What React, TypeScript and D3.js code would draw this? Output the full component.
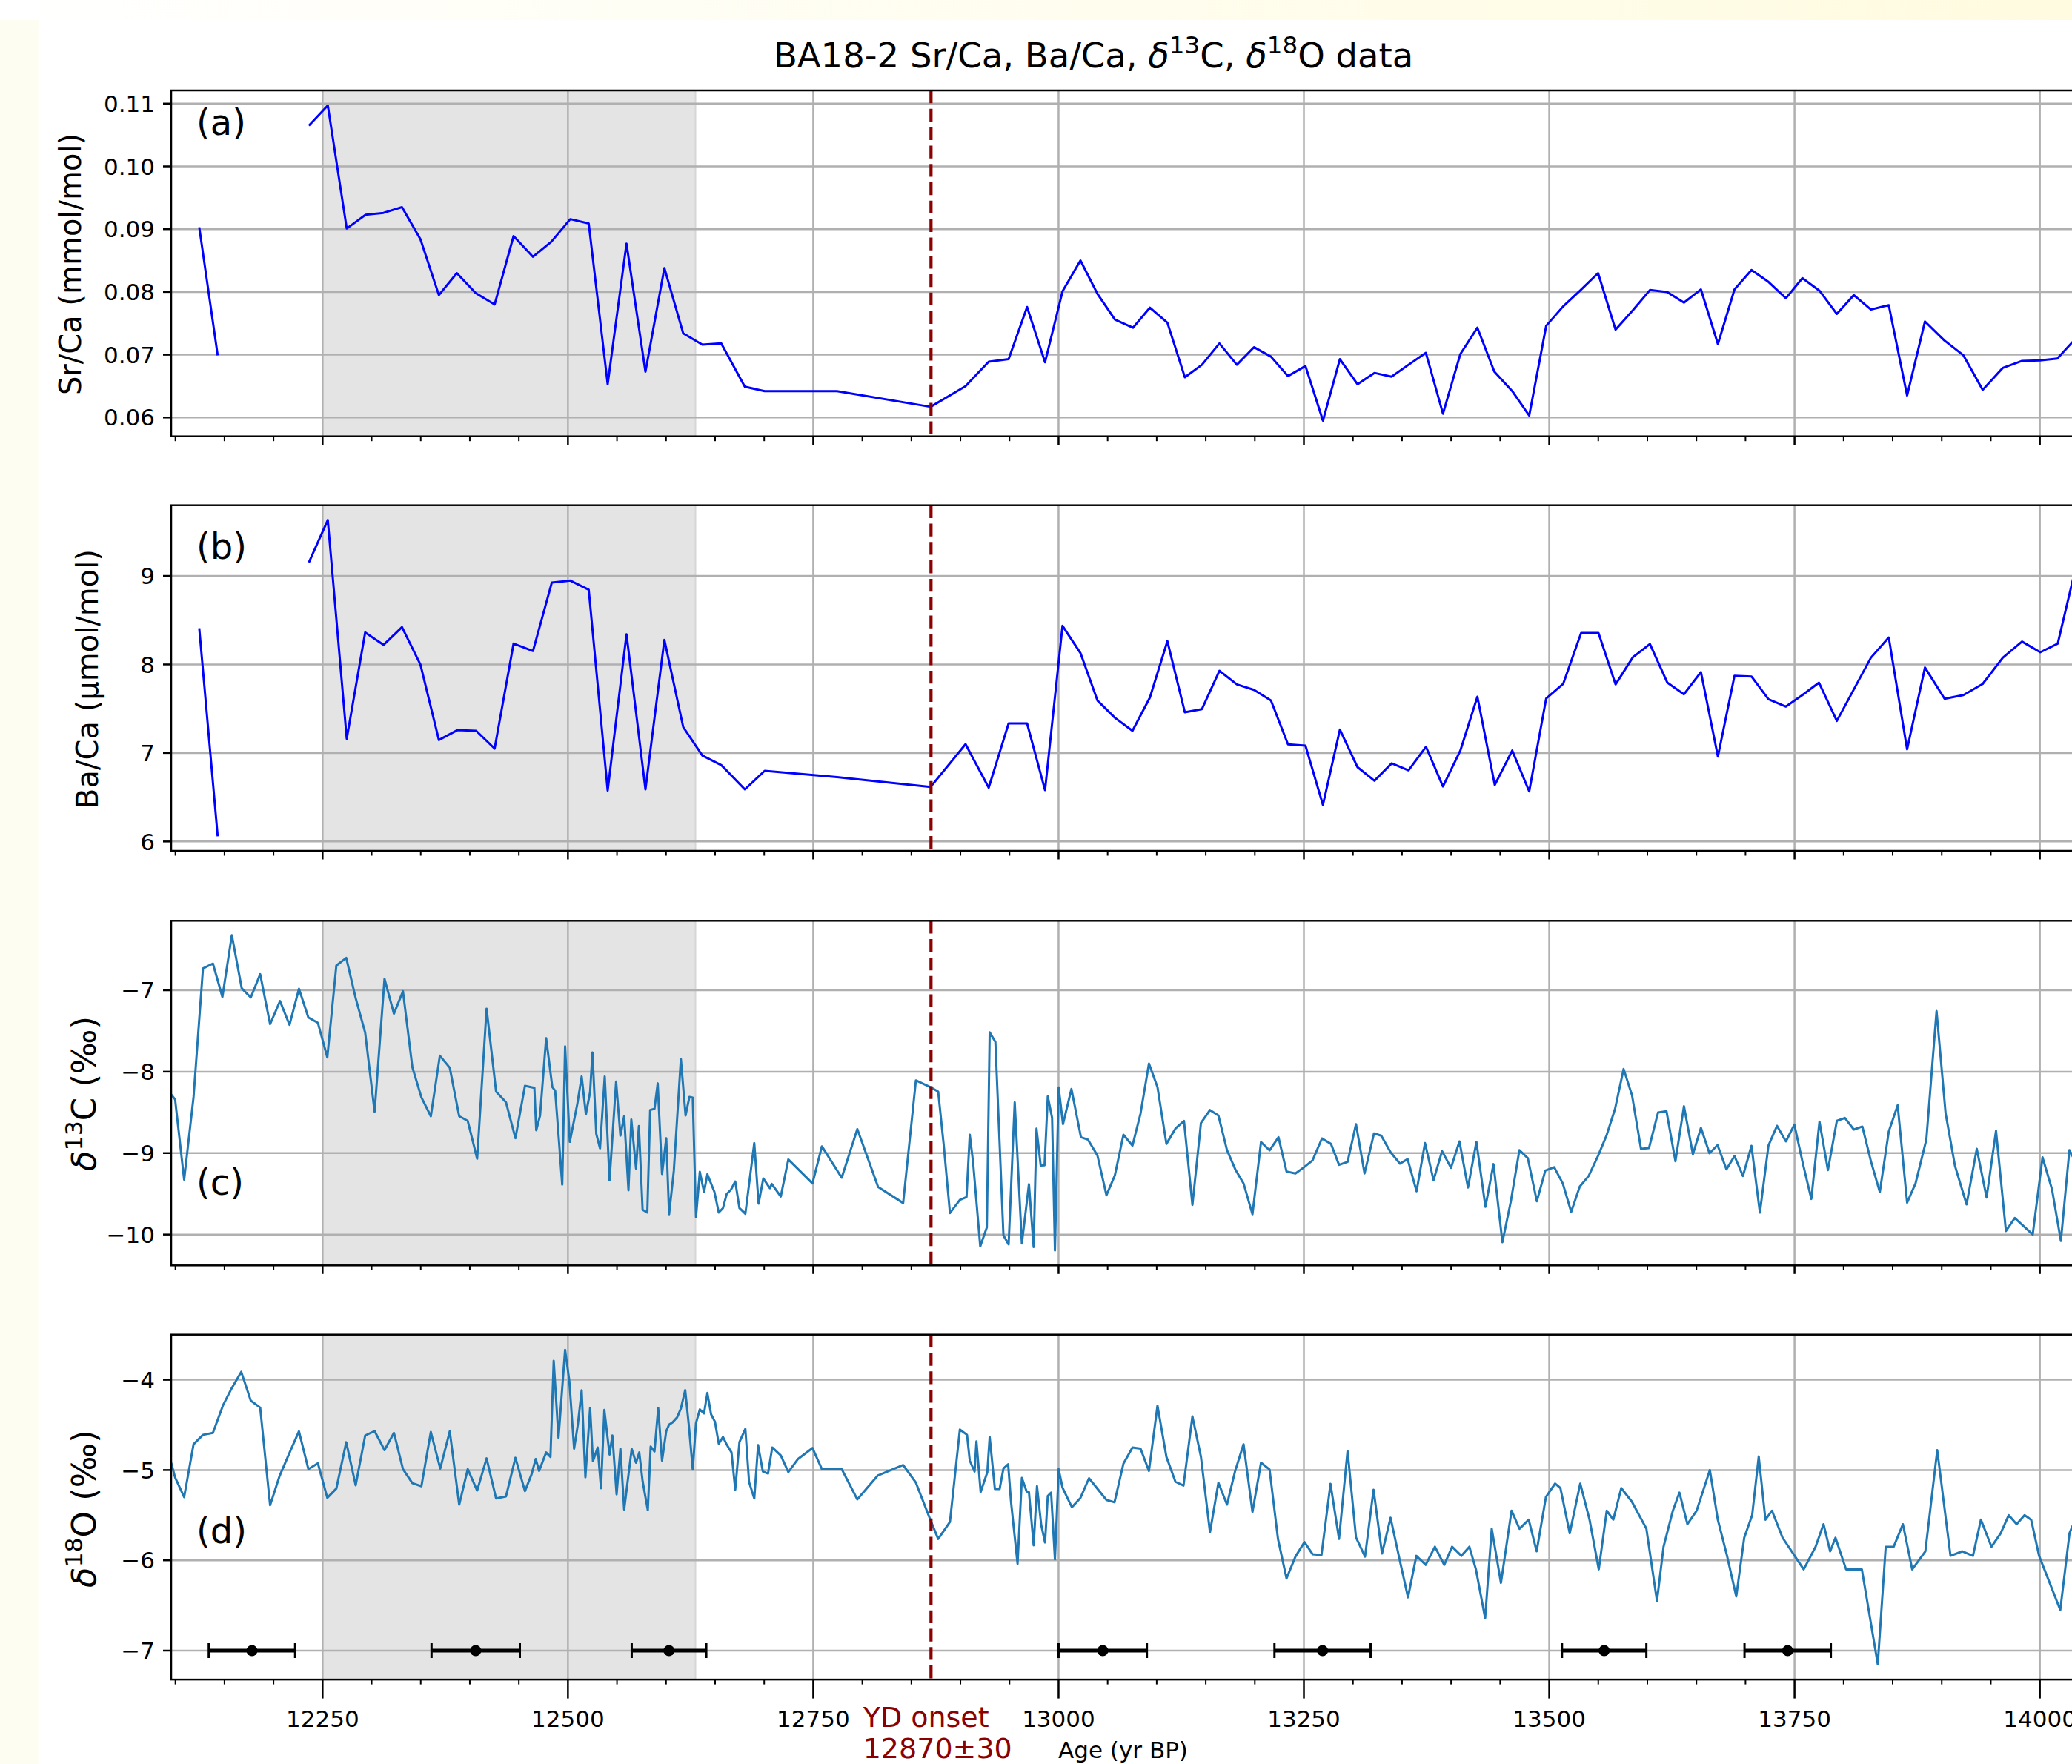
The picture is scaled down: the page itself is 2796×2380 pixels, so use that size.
import React from "react";
import * as d3 from "d3";

type Pt = [number, number | null];

// ---------- data ----------
const xTickValues = [12250, 12500, 12750, 13000, 13250, 13500, 13750, 14000];
const srCaTicks = [0.06, 0.07, 0.08, 0.09, 0.1, 0.11];
const baCaTicks = [6, 7, 8, 9];
const d13CTicks = [-10, -9, -8, -7];
const d18OTicks = [-7, -6, -5, -4];

const srCa: Pt[] = [
  [12124.3, 0.0903], [12143.1, 0.0699], [12190, null],
  [12236.0, 0.1065], [12255.3, 0.1097], [12274.6, 0.0901], [12293.8, 0.0923], [12312.1, 0.0926],
  [12330.9, 0.0935], [12349.7, 0.0884], [12368.5, 0.0795], [12386.8, 0.083], [12406.1, 0.0798],
  [12425.3, 0.078], [12444.6, 0.0889], [12464.4, 0.0856], [12483.1, 0.088], [12502.4, 0.0916],
  [12521.2, 0.0909], [12540.5, 0.0653], [12559.7, 0.0877], [12579.0, 0.0673], [12598.3, 0.0838],
  [12617.5, 0.0734], [12637.0, 0.0716], [12656.2, 0.0718], [12680.3, 0.0649], [12700.5, 0.0642],
  [12774.2, 0.0642], [12869.6, 0.0617], [12905.2, 0.065], [12928.8, 0.0689], [12949.1, 0.0693],
  [12967.9, 0.0776], [12986.2, 0.0688], [13004.0, 0.0801], [13022.3, 0.085], [13039.6, 0.0797],
  [13057.4, 0.0756], [13075.8, 0.0743], [13093.1, 0.0775], [13110.9, 0.0751], [13128.7, 0.0664],
  [13146.1, 0.0684], [13163.9, 0.0718], [13181.7, 0.0684], [13199.1, 0.0712], [13216.4, 0.0697],
  [13233.8, 0.0666], [13251.6, 0.0682], [13269.4, 0.0595], [13286.7, 0.0693], [13304.6, 0.0653],
  [13321.9, 0.0671], [13339.3, 0.0665], [13356.6, 0.0684], [13374.3, 0.0703], [13391.7, 0.0606],
  [13409.4, 0.0701], [13426.8, 0.0743], [13444.1, 0.0673], [13462.3, 0.0642], [13479.6, 0.0603],
  [13496.9, 0.0746], [13514.2, 0.0777], [13532.0, 0.0803], [13549.8, 0.083], [13567.6, 0.074],
  [13585.3, 0.0771], [13602.6, 0.0803], [13620.0, 0.08], [13637.3, 0.0783], [13654.6, 0.0804],
  [13671.9, 0.0717], [13688.8, 0.0804], [13706.1, 0.0835], [13723.4, 0.0816], [13741.2, 0.079],
  [13758.0, 0.0822], [13775.4, 0.0802], [13793.1, 0.0765], [13810.4, 0.0795], [13827.8, 0.0772],
  [13846.0, 0.0779], [13864.7, 0.0635], [13882.9, 0.0753], [13902.5, 0.0723], [13922.1, 0.0699],
  [13941.7, 0.0644], [13962.2, 0.0679], [13981.3, 0.069], [14000.0, 0.0691], [14017.8, 0.0694],
  [14036.0, 0.0725],
];

const baCa: Pt[] = [
  [12124.3, 8.408], [12143.1, 6.058], [12190, null],
  [12236.0, 9.151], [12255.3, 9.631], [12274.6, 7.161], [12293.4, 8.361], [12312.1, 8.221],
  [12330.9, 8.422], [12349.7, 7.998], [12368.5, 7.147], [12387.3, 7.258], [12406.5, 7.25],
  [12425.3, 7.049], [12444.6, 8.235], [12464.4, 8.152], [12483.6, 8.925], [12502.4, 8.947],
  [12521.2, 8.844], [12540.5, 6.575], [12559.7, 8.341], [12579.0, 6.589], [12598.3, 8.277],
  [12617.5, 7.292], [12637.0, 6.971], [12656.4, 6.862], [12680.3, 6.589], [12700.5, 6.798],
  [12774.2, 6.728], [12869.6, 6.617], [12905.2, 7.099], [12928.8, 6.608], [12949.1, 7.334],
  [12967.9, 7.334], [12986.2, 6.58], [13004.0, 8.436], [13022.3, 8.129], [13039.6, 7.593],
  [13057.4, 7.398], [13075.3, 7.25], [13093.1, 7.627], [13110.9, 8.263], [13128.7, 7.459],
  [13146.1, 7.496], [13163.9, 7.928], [13181.7, 7.775], [13199.1, 7.713], [13216.4, 7.593],
  [13233.8, 7.097], [13251.6, 7.083], [13269.4, 6.413], [13286.7, 7.264], [13304.6, 6.84],
  [13321.9, 6.686], [13339.5, 6.883], [13356.6, 6.804], [13374.4, 7.07], [13391.7, 6.622],
  [13409.4, 7.027], [13426.8, 7.635], [13444.5, 6.639], [13462.3, 7.027], [13479.6, 6.566],
  [13496.9, 7.616], [13514.2, 7.78], [13532.5, 8.355], [13550.2, 8.355], [13567.6, 7.775],
  [13585.3, 8.082], [13602.6, 8.23], [13620.4, 7.794], [13637.3, 7.663], [13654.6, 7.914],
  [13671.9, 6.96], [13688.8, 7.872], [13706.1, 7.864], [13723.4, 7.607], [13741.2, 7.524],
  [13758.0, 7.654], [13774.9, 7.794], [13793.1, 7.362], [13810.4, 7.718], [13827.8, 8.076],
  [13846.0, 8.305], [13864.7, 7.041], [13882.9, 7.965], [13902.9, 7.613], [13922.1, 7.654],
  [13941.7, 7.78], [13962.2, 8.076], [13981.8, 8.258], [14000.4, 8.138], [14018.2, 8.235],
  [14036.0, 9.07],
];

const d13C: Pt[] = [
  [12095.7, -8.28], [12099.7, -8.341], [12108.9, -9.326], [12118.5, -8.31], [12128.1, -6.733],
  [12138.2, -6.672], [12147.9, -7.082], [12157.5, -6.324], [12167.6, -6.976], [12176.8, -7.088],
  [12186.4, -6.803], [12196.5, -7.416], [12206.6, -7.133], [12216.3, -7.425], [12225.9, -6.982],
  [12235.5, -7.334], [12245.2, -7.4], [12254.8, -7.825], [12264.0, -6.697], [12274.1, -6.603],
  [12283.7, -7.097], [12293.4, -7.522], [12303.0, -8.492], [12313.1, -6.86], [12322.7, -7.288],
  [12331.9, -7.012], [12341.5, -7.946], [12350.7, -8.316], [12360.3, -8.547], [12369.5, -7.804],
  [12379.6, -7.952], [12389.2, -8.547], [12397.9, -8.604], [12407.5, -9.069], [12417.1, -7.227],
  [12426.8, -8.244], [12436.9, -8.377], [12446.5, -8.817], [12456.2, -8.174], [12465.8, -8.198],
  [12467.7, -8.72], [12471.6, -8.538], [12477.8, -7.588], [12484.1, -8.189], [12487.0, -8.234],
  [12494.2, -9.387], [12497.1, -7.689], [12501.9, -8.862], [12509.6, -8.395], [12514.0, -8.059],
  [12518.3, -8.523], [12522.6, -8.25], [12525.0, -7.764], [12528.9, -8.765], [12532.7, -8.941],
  [12537.5, -8.059], [12542.4, -9.335], [12549.1, -8.122], [12553.5, -8.786], [12557.3, -8.547],
  [12561.7, -9.457], [12564.6, -8.589], [12569.4, -9.19], [12572.3, -8.668], [12576.1, -9.696],
  [12580.9, -9.73], [12583.8, -8.471], [12588.2, -8.456], [12591.5, -8.143], [12595.9, -9.257],
  [12600.2, -8.817], [12603.1, -9.751], [12607.9, -9.22], [12615.1, -7.846], [12619.9, -8.538],
  [12623.8, -8.31], [12627.2, -8.319], [12630.5, -9.787], [12634.4, -9.229], [12638.7, -9.478],
  [12642.1, -9.26], [12649.3, -9.478], [12653.7, -9.73], [12658.0, -9.675], [12661.8, -9.502],
  [12666.2, -9.448], [12670.5, -9.348], [12674.8, -9.675], [12680.8, -9.745], [12689.9, -8.877],
  [12694.3, -9.621], [12699.1, -9.311], [12705.8, -9.432], [12707.7, -9.378], [12716.9, -9.533],
  [12724.6, -9.078], [12749.2, -9.372], [12758.8, -8.917], [12779.0, -9.302], [12794.9, -8.705],
  [12816.1, -9.417], [12841.6, -9.613], [12854.6, -8.107], [12869.1, -8.189], [12877.3, -8.244],
  [12883.1, -8.917], [12889.3, -9.736], [12899.4, -9.575], [12906.2, -9.539], [12909.5, -8.774],
  [12912.9, -9.114], [12920.2, -10.145], [12926.9, -9.912], [12929.8, -7.516], [12935.6, -7.634],
  [12943.8, -10.009], [12949.1, -10.121], [12955.3, -8.377], [12962.6, -10.109], [12969.8, -9.381],
  [12974.6, -10.154], [12977.5, -8.699], [12981.8, -9.153], [12985.7, -9.15], [12989.0, -8.304],
  [12993.4, -8.568], [12996.3, -10.197], [13000.1, -8.195], [13004.5, -8.644], [13013.1, -8.213],
  [13022.8, -8.805], [13030.0, -8.835], [13039.6, -9.029], [13048.8, -9.518], [13057.4, -9.272],
  [13066.1, -8.774], [13075.3, -8.908], [13083.5, -8.516], [13092.1, -7.901], [13100.8, -8.189],
  [13109.9, -8.887], [13119.1, -8.699], [13127.8, -8.604], [13136.4, -9.636], [13145.1, -8.629],
  [13154.3, -8.471], [13162.9, -8.538], [13171.6, -8.963], [13180.3, -9.205], [13188.5, -9.372],
  [13197.6, -9.751], [13206.3, -8.864], [13215.0, -8.966], [13224.1, -8.805], [13232.3, -9.226],
  [13241.4, -9.25], [13250.1, -9.174], [13258.8, -9.09], [13268.4, -8.82], [13277.6, -8.887],
  [13285.8, -9.144], [13294.5, -9.108], [13303.1, -8.644], [13311.8, -9.25], [13321.4, -8.759],
  [13328.8, -8.786], [13338.4, -8.991], [13347.9, -9.129], [13355.7, -9.074], [13364.8, -9.469],
  [13373.4, -8.877], [13382.1, -9.332], [13390.8, -8.976], [13399.9, -9.181], [13408.5, -8.856],
  [13417.2, -9.423], [13425.8, -8.862], [13435.0, -9.66], [13443.2, -9.135], [13452.3, -10.094],
  [13460.9, -9.591], [13469.6, -8.963], [13478.2, -9.063], [13487.4, -9.591], [13496.0, -9.215],
  [13505.1, -9.174], [13513.8, -9.372], [13522.4, -9.721], [13531.1, -9.411], [13540.2, -9.281],
  [13549.8, -9.033], [13558.5, -8.78], [13567.1, -8.456], [13575.8, -7.968], [13584.4, -8.291],
  [13593.5, -8.947], [13601.7, -8.938], [13610.9, -8.501], [13619.5, -8.486], [13628.6, -9.099],
  [13637.3, -8.425], [13646.4, -9.014], [13654.6, -8.69], [13663.3, -9.002], [13671.5, -8.902],
  [13680.6, -9.199], [13688.8, -9.036], [13697.4, -9.281], [13706.1, -8.911], [13714.7, -9.73],
  [13723.4, -8.908], [13732.1, -8.665], [13741.2, -8.856], [13749.8, -8.65], [13758.5, -9.129],
  [13767.1, -9.563], [13775.4, -8.614], [13784.0, -9.209], [13793.1, -8.604], [13801.3, -8.568],
  [13810.4, -8.711], [13819.1, -8.674], [13827.8, -9.099], [13836.9, -9.478], [13846.0, -8.735],
  [13855.1, -8.413], [13864.7, -9.609], [13873.3, -9.372], [13884.3, -8.835], [13894.7, -7.255],
  [13903.9, -8.508], [13913.4, -9.153], [13925.3, -9.63], [13935.7, -8.947], [13945.7, -9.545],
  [13955.3, -8.726], [13965.4, -9.957], [13974.4, -9.797], [13992.7, -10.0], [14002.7, -9.052],
  [14012.3, -9.442], [14021.4, -10.079], [14030.1, -8.963], [14036.0, -9.1],
];

const d18O: Pt[] = [
  [12095.7, -4.919], [12099.7, -5.081], [12108.9, -5.299], [12118.5, -4.714], [12128.1, -4.61],
  [12138.2, -4.588], [12148.4, -4.286], [12157.5, -4.091], [12167.1, -3.912], [12176.8, -4.231],
  [12186.4, -4.308], [12196.5, -5.39], [12206.2, -5.065], [12215.8, -4.821], [12225.9, -4.571],
  [12235.5, -4.99], [12245.2, -4.925], [12254.8, -5.308], [12264.0, -5.205], [12274.1, -4.692],
  [12283.7, -5.169], [12293.4, -4.617], [12303.0, -4.568], [12313.1, -4.779], [12322.7, -4.588],
  [12331.9, -4.99], [12341.5, -5.146], [12350.7, -5.179], [12360.3, -4.578], [12369.9, -4.984],
  [12379.6, -4.571], [12389.2, -5.383], [12397.9, -4.99], [12407.5, -5.227], [12417.1, -4.87],
  [12426.8, -5.315], [12436.9, -5.292], [12446.5, -4.864], [12456.2, -5.234], [12462.9, -5.049],
  [12467.2, -4.877], [12470.6, -5.01], [12477.8, -4.805], [12482.2, -4.854], [12485.5, -3.789],
  [12490.4, -4.643], [12497.1, -3.669], [12501.4, -4.01], [12506.3, -4.763], [12510.1, -4.497],
  [12514.0, -4.117], [12517.8, -5.081], [12522.6, -4.312], [12525.5, -4.903], [12530.3, -4.75],
  [12533.7, -5.201], [12537.1, -4.334], [12542.4, -4.828], [12545.3, -4.617], [12549.6, -5.269],
  [12553.5, -4.763], [12557.3, -5.438], [12565.0, -4.766], [12569.4, -4.919], [12572.7, -4.805],
  [12576.1, -5.123], [12581.4, -5.445], [12584.3, -4.74], [12588.2, -4.795], [12592.0, -4.312],
  [12595.9, -4.896], [12600.2, -4.568], [12603.1, -4.497], [12606.5, -4.474], [12611.3, -4.416],
  [12615.1, -4.318], [12619.5, -4.114], [12623.3, -4.513], [12627.2, -4.994], [12630.5, -4.481],
  [12634.4, -4.328], [12638.7, -4.373], [12642.1, -4.146], [12645.9, -4.383], [12649.8, -4.464],
  [12653.7, -4.708], [12658.0, -4.633], [12661.8, -4.718], [12666.7, -4.805], [12670.5, -5.218],
  [12674.8, -4.69], [12680.8, -4.545], [12684.6, -5.133], [12689.9, -5.315], [12693.8, -4.724],
  [12698.6, -5.016], [12703.9, -5.039], [12708.2, -4.75], [12716.9, -4.838], [12724.6, -5.023],
  [12734.2, -4.88], [12749.2, -4.756], [12758.8, -4.99], [12779.0, -4.99], [12794.9, -5.325],
  [12815.6, -5.062], [12841.6, -4.945], [12854.6, -5.14], [12869.1, -5.545], [12877.3, -5.763],
  [12889.3, -5.575], [12899.4, -4.552], [12906.7, -4.61], [12909.5, -4.896], [12914.4, -5.016],
  [12916.3, -4.682], [12920.6, -5.244], [12927.4, -5.023], [12929.8, -4.633], [12935.1, -5.211],
  [12939.9, -5.211], [12943.8, -4.984], [12948.6, -4.935], [12951.5, -5.347], [12958.2, -6.039],
  [12962.6, -5.088], [12967.4, -5.237], [12969.8, -5.244], [12974.6, -5.834], [12978.0, -5.179],
  [12982.3, -5.607], [12986.2, -5.802], [12989.0, -5.286], [12992.4, -5.25], [12996.3, -5.99],
  [13000.1, -4.99], [13004.0, -5.195], [13013.6, -5.412], [13022.3, -5.308], [13031.0, -5.091],
  [13048.8, -5.331], [13057.0, -5.357], [13066.1, -4.929], [13075.3, -4.75], [13083.5, -4.763],
  [13092.1, -5.01], [13100.8, -4.286], [13109.9, -4.854], [13119.1, -5.13], [13127.3, -5.172],
  [13136.4, -4.406], [13145.1, -4.854], [13154.3, -5.688], [13162.9, -5.141], [13171.6, -5.383],
  [13179.8, -5.016], [13188.5, -4.714], [13197.6, -5.464], [13206.3, -4.919], [13215.0, -4.994],
  [13223.6, -5.763], [13232.3, -6.201], [13241.4, -5.958], [13250.6, -5.797], [13258.8, -5.932],
  [13267.9, -5.942], [13277.1, -5.153], [13285.8, -5.763], [13294.5, -4.789], [13303.1, -5.747],
  [13312.3, -5.958], [13321.0, -5.218], [13329.6, -5.925], [13338.3, -5.529], [13347.5, -5.99],
  [13356.1, -6.41], [13364.6, -5.95], [13374.1, -6.05], [13383.5, -5.85], [13393.0, -6.05],
  [13401.0, -5.85], [13410.5, -5.95], [13418.6, -5.85], [13425.3, -6.1], [13434.7, -6.64],
  [13441.4, -5.65], [13450.8, -6.25], [13461.6, -5.45], [13469.7, -5.65], [13479.1, -5.55],
  [13487.2, -5.9], [13496.6, -5.3], [13506.0, -5.15], [13511.4, -5.2], [13520.9, -5.7],
  [13531.6, -5.15], [13541.1, -5.55], [13550.5, -6.1], [13558.6, -5.45], [13565.3, -5.55],
  [13573.4, -5.2], [13584.2, -5.35], [13599.0, -5.65], [13609.8, -6.45], [13616.5, -5.85],
  [13626.0, -5.45], [13632.7, -5.25], [13640.8, -5.6], [13650.2, -5.45], [13663.7, -5.0],
  [13671.8, -5.55], [13681.2, -5.95], [13690.6, -6.4], [13698.7, -5.75], [13706.8, -5.5],
  [13713.5, -4.85], [13720.3, -5.55], [13727.0, -5.45], [13737.8, -5.75], [13759.3, -6.1],
  [13771.4, -5.85], [13779.5, -5.6], [13786.3, -5.9], [13791.7, -5.75], [13802.5, -6.1],
  [13818.6, -6.1], [13834.8, -7.15], [13842.9, -5.85], [13851.0, -5.85], [13860.4, -5.6],
  [13869.9, -6.1], [13883.3, -5.9], [13895.4, -4.78], [13908.9, -5.95], [13921.0, -5.9],
  [13931.8, -5.95], [13939.9, -5.55], [13950.7, -5.85], [13960.1, -5.7], [13968.2, -5.5],
  [13976.3, -5.6], [13984.4, -5.5], [13991.1, -5.55], [13999.2, -5.95], [14020.8, -6.55],
  [14030.2, -5.7], [14036.0, -5.55],
];

const datingAges = [12178, 12406, 12603, 13045, 13269, 13556, 13743];
const datingErrors = [44, 45, 38, 45, 49, 43, 44];
const datingLevel = -7;

const ydOnsetAge = 12870;
const shadeStart = 12250;
const shadeEnd = 12630;

// ---------- layout ----------
const W = 2796;
const H = 2380;
const X0 = 231;
const X1 = 2799;
const FONT = "'DejaVu Sans', 'Liberation Sans', sans-serif";
const GRID = "#b0b0b0";

const fmtMinus = (s: string) => s.replace("-", "\u2212");

export default function App() {
  const x = d3.scaleLinear().domain([12095.7, 14035]).range([X0, X1]);
  const minorTicks = d3.range(12100, 14040, 50).filter((v) => v % 250 !== 0);

  const panels = [
    {
      id: "a", data: srCa, color: "#0000ff", domain: [0.057, 0.1121], top: 122, bottom: 588.7,
      ticks: srCaTicks, fmt: (v: number) => v.toFixed(2), labelBase: 181.8,
      majorLen: 11.5,
    },
    {
      id: "b", data: baCa, color: "#0000ff", domain: [5.894, 9.798], top: 681.7, bottom: 1148,
      ticks: baCaTicks, fmt: (v: number) => String(v), labelBase: 753.5,
      majorLen: 11.5,
    },
    {
      id: "c", data: d13C, color: "#1f77b4", domain: [-10.379, -6.147], top: 1242.3, bottom: 1707.3,
      ticks: d13CTicks, fmt: (v: number) => fmtMinus(String(v)), labelBase: 1611.8,
      majorLen: 11.5,
    },
    {
      id: "d", data: d18O, color: "#1f77b4", domain: [-7.321, -3.5], top: 1800.7, bottom: 2266.1,
      ticks: d18OTicks, fmt: (v: number) => fmtMinus(String(v)), labelBase: 2081.7,
      majorLen: 25.5,
    },
  ];

  return (
    <svg
      width={W}
      height={H}
      viewBox={`0 0 ${W} ${H}`}
      style={{ position: "absolute", left: 0, top: 0, display: "block", background: "#ffffff" }}
      fontFamily={FONT}
    >
      <defs>
        <linearGradient id="topband" x1="0" x2="1" y1="0" y2="0">
          <stop offset="0" stopColor="#ffffff" />
          <stop offset="0.3" stopColor="#fffef5" />
          <stop offset="1" stopColor="#fffbe0" />
        </linearGradient>
        {panels.map((p) => (
          <clipPath id={`clip-${p.id}`} key={p.id}>
            <rect x={X0} y={p.top} width={X1 - X0} height={p.bottom - p.top} />
          </clipPath>
        ))}
      </defs>
      <rect x={0} y={0} width={W} height={H} fill="#ffffff" />
      <rect x={0} y={0} width={52} height={H} fill="#fdfdf2" />
      <rect x={0} y={0} width={W} height={27} fill="url(#topband)" />

      <text x={1475.6} y={91} fontSize={46.5} textAnchor="middle" fill="#000">
        BA18-2 Sr/Ca, Ba/Ca, <tspan fontStyle="italic">δ</tspan>
        <tspan baselineShift="super" fontSize="70%">13</tspan>
        <tspan>C, </tspan>
        <tspan fontStyle="italic">δ</tspan>
        <tspan baselineShift="super" fontSize="70%">18</tspan>
        <tspan>O data</tspan>
      </text>

      {panels.map((p) => {
        const y = d3.scaleLinear().domain(p.domain).range([p.bottom, p.top]);
        const line = d3
          .line<Pt>()
          .defined((d) => d[1] !== null)
          .x((d) => x(d[0]))
          .y((d) => y(d[1] as number));
        return (
          <g key={p.id}>
            <rect
              x={x(shadeStart)}
              y={p.top}
              width={x(shadeEnd) - x(shadeStart)}
              height={p.bottom - p.top}
              fill="#e4e4e4"
            />
            <line x1={x(shadeEnd)} x2={x(shadeEnd)} y1={p.top} y2={p.bottom} stroke="#d6d6d6" strokeWidth={2} />
            {xTickValues.map((t) => (
              <line key={`gx${t}`} x1={x(t)} x2={x(t)} y1={p.top} y2={p.bottom} stroke={GRID} strokeWidth={2.5} />
            ))}
            {p.ticks.map((t) => (
              <line key={`gy${t}`} x1={X0} x2={X1} y1={y(t)} y2={y(t)} stroke={GRID} strokeWidth={2.5} />
            ))}
            <path
              d={line(p.data) || ""}
              fill="none"
              stroke={p.color}
              strokeWidth={3}
              strokeLinejoin="round"
              clipPath={`url(#clip-${p.id})`}
            />
            <line
              x1={x(ydOnsetAge)}
              x2={x(ydOnsetAge)}
              y1={p.top}
              y2={p.bottom}
              stroke="#8b0000"
              strokeWidth={4.2}
              strokeDasharray="17.3 7.5"
            />
            <rect
              x={X0}
              y={p.top}
              width={X1 - X0}
              height={p.bottom - p.top}
              fill="none"
              stroke="#000"
              strokeWidth={2.5}
            />
            {p.ticks.map((t) => (
              <g key={`ty${t}`}>
                <line x1={X0 - 11} x2={X0} y1={y(t)} y2={y(t)} stroke="#000" strokeWidth={2.5} />
                <text x={209} y={y(t) + 11.2} fontSize={31} textAnchor="end" fill="#000">
                  {p.fmt(t)}
                </text>
              </g>
            ))}
            {xTickValues.map((t) => (
              <line key={`tx${t}`} x1={x(t)} x2={x(t)} y1={p.bottom} y2={p.bottom + p.majorLen} stroke="#000" strokeWidth={2.5} />
            ))}
            {minorTicks.map((t) => (
              <line key={`mx${t}`} x1={x(t)} x2={x(t)} y1={p.bottom} y2={p.bottom + 6.5} stroke="#000" strokeWidth={2} />
            ))}
            <text x={265} y={p.labelBase} fontSize={48} fill="#000">
              ({p.id})
            </text>
            {p.id === "d" && (
              <g>
                {datingAges.map((a, i) => {
                  const e = datingErrors[i];
                  const yy = y(datingLevel);
                  return (
                    <g key={`eb${a}`}>
                      <line x1={x(a - e)} x2={x(a + e)} y1={yy} y2={yy} stroke="#000" strokeWidth={5} />
                      <line x1={x(a - e)} x2={x(a - e)} y1={yy - 10} y2={yy + 10} stroke="#000" strokeWidth={3} />
                      <line x1={x(a + e)} x2={x(a + e)} y1={yy - 10} y2={yy + 10} stroke="#000" strokeWidth={3} />
                      <circle cx={x(a)} cy={yy} r={7.5} fill="#000" />
                    </g>
                  );
                })}
                {xTickValues.map((t) => (
                  <text key={`lx${t}`} x={x(t)} y={2329.5} fontSize={31} textAnchor="middle" fill="#000">
                    {t}
                  </text>
                ))}
              </g>
            )}
          </g>
        );
      })}

      <text transform="translate(108.5,356.5) rotate(-90)" fontSize={40} textAnchor="middle" fill="#000">
        Sr/Ca (mmol/mol)
      </text>
      <text transform="translate(132,916) rotate(-90)" fontSize={40} textAnchor="middle" fill="#000">
        Ba/Ca (μmol/mol)
      </text>
      <text transform="translate(129.3,1475.5) rotate(-90)" fontSize={45} textAnchor="middle" fill="#000">
        <tspan fontStyle="italic">δ</tspan>
        <tspan baselineShift="super" fontSize="70%">13</tspan>
        <tspan>C (‰)</tspan>
      </text>
      <text transform="translate(129.3,2035.7) rotate(-90)" fontSize={45} textAnchor="middle" fill="#000">
        <tspan fontStyle="italic">δ</tspan>
        <tspan baselineShift="super" fontSize="70%">18</tspan>
        <tspan>O (‰)</tspan>
      </text>

      <text x={1164.7} y={2329.5} fontSize={38} fill="#8b0000">
        YD onset
      </text>
      <text x={1164.7} y={2372} fontSize={38} fill="#8b0000">
        12870±30
      </text>
      <text x={1515.5} y={2372} fontSize={31} textAnchor="middle" fill="#000">
        Age (yr BP)
      </text>
    </svg>
  );
}
